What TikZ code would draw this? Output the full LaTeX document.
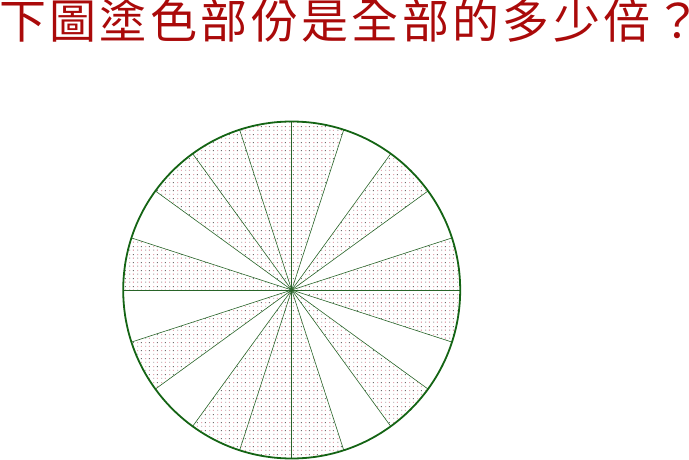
\documentclass[tikz,border=0pt]{standalone}
\usepackage{fontspec}
\newfontfamily\cjk{Noto Sans CJK TC}
\usetikzlibrary{patterns}
\definecolor{titlered}{RGB}{170,10,10}
\definecolor{rimgreen}{RGB}{20,100,20}
\definecolor{spokegreen}{RGB}{40,100,40}
\definecolor{dotgrey}{RGB}{110,110,110}
\definecolor{dotred}{RGB}{215,120,135}
\pgfdeclarepatterninherentlycolored{mydots}{\pgfpointorigin}{\pgfqpoint{8pt}{8pt}}{\pgfqpoint{8pt}{8pt}}{%
  \pgfsetfillcolor{dotgrey}%
  \pgfpathrectangle{\pgfqpoint{1.5pt}{1.5pt}}{\pgfqpoint{1pt}{1pt}}%
  \pgfpathrectangle{\pgfqpoint{5.5pt}{5.5pt}}{\pgfqpoint{1pt}{1pt}}%
  \pgfusepath{fill}%
  \pgfsetfillcolor{dotred}%
  \pgfpathrectangle{\pgfqpoint{5.5pt}{1.5pt}}{\pgfqpoint{1pt}{1pt}}%
  \pgfpathrectangle{\pgfqpoint{1.5pt}{5.5pt}}{\pgfqpoint{1pt}{1pt}}%
  \pgfusepath{fill}%
}
\tikzset{
  titletext/.style={anchor=base west, inner sep=0pt, text=titlered,
    font=\cjk\fontsize{47pt}{50pt}\selectfont\addfontfeature{LetterSpace=7.2}},
  shaded/.style={pattern=mydots},
  spoke/.style={draw=spokegreen, line width=0.6pt},
  rim/.style={draw=rimgreen, line width=1.8pt},
}
\begin{document}
\begin{tikzpicture}[x=1pt,y=1pt]
\useasboundingbox (0,0) rectangle (689,-460);
\node[titletext] (title) at (-1,-39) {下圖塗色部份是全部的多少倍？};
\coordinate (O) at (291.7,-290);
\def\R{168.5}
\foreach \a in {0,36,72,90,108,126,162,198,234,252,270,306,342}{
  \fill[shaded] (O) -- ++(\a:\R) arc[start angle=\a, end angle=\a+18, radius=\R] -- cycle;
}
\foreach \a in {0,18,...,342}{
  \draw[spoke] (O) -- ++(\a:\R);
}
\draw[rim] (O) circle[radius=\R];
\end{tikzpicture}
\end{document}
